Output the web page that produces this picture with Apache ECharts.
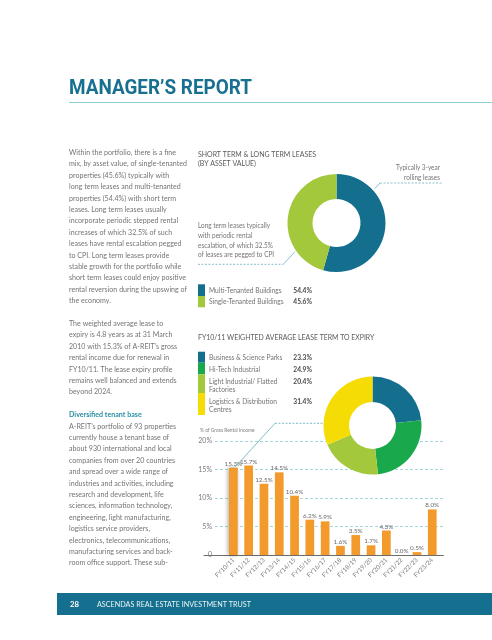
<!DOCTYPE html>
<html><head><meta charset="utf-8">
<script src="https://cdn.jsdelivr.net/npm/echarts@6/dist/echarts.min.js"></script>
<style>html,body{margin:0;padding:0;background:#fff}#c{width:492px;height:640px}</style>
</head><body><div id="c"></div>
<script>
// ---------- data ----------
const pageTitle = 'MANAGER’S REPORT';
const footerPage = '28';
const footerText = 'ASCENDAS REAL ESTATE INVESTMENT TRUST';

const leaseTitle = ['SHORT TERM & LONG TERM LEASES', '(BY ASSET VALUE)'];
const leaseTypes = ['Multi-Tenanted Buildings', 'Single-Tenanted Buildings'];
const leaseShares = [54.4, 45.6];
const leaseColors = ['#146f8e', '#a4c83c'];
const shortNote = ['Typically 3-year', 'rolling leases'];
const longNote = ['Long term leases typically', 'with periodic rental', 'escalation, of which 32.5%', 'of leases are pegged to CPI'];

const sectorTitle = 'FY10/11 WEIGHTED AVERAGE LEASE TERM TO EXPIRY';
const sectors = [['Business & Science Parks'], ['Hi-Tech Industrial'], ['Light Industrial/ Flatted', 'Factories'], ['Logistics & Distribution', 'Centres']];
const sectorShares = [23.3, 24.9, 20.4, 31.4];
const sectorColors = ['#146f8e', '#19a84c', '#a4c83c', '#f5dc05'];

const yAxisTitle = '% of Gross Rental Income';
const fiscalYears = ['FY10/11','FY11/12','FY12/13','FY13/14','FY14/15','FY15/16','FY16/17','FY17/18','FY18/19','FY19/20','FY20/21','FY21/22','FY22/23','FY23/24'];
const expiryShares = [15.3, 15.7, 12.5, 14.5, 10.4, 6.2, 5.9, 1.6, 3.5, 1.7, 4.3, 0.0, 0.5, 8.0];
const yTicks = [0, 5, 10, 15, 20];

const para1 = ['Within the portfolio, there is a fine','mix, by asset value, of single-tenanted','properties (45.6%) typically with','long term leases and multi-tenanted','properties (54.4%) with short term','leases. Long term leases usually','incorporate periodic stepped rental','increases of which 32.5% of such','leases have rental escalation pegged','to CPI. Long term leases provide','stable growth for the portfolio while','short term leases could enjoy positive','rental reversion during the upswing of','the economy.'];
const para2 = ['The weighted average lease to','expiry is 4.8 years as at 31 March','2010 with 15.3% of A-REIT’s gross','rental income due for renewal in','FY10/11. The lease expiry profile','remains well balanced and extends','beyond 2024.'];
const heading3 = 'Diversified tenant base';
const para3 = ['A-REIT’s portfolio of 93 properties','currently house a tenant base of','about 930 international and local','companies from over 20 countries','and spread over a wide range of','industries and activities, including','research and development, life','sciences, information technology,','engineering, light manufacturing,','logistics service providers,','electronics, telecommunications,','manufacturing services and back-','room office support. These sub-'];

// ---------- helpers ----------
const chart = echarts.init(document.getElementById('c'), null, {renderer: 'canvas'});
const mctx = document.createElement('canvas').getContext('2d');
function measure(str, size, fam, wt) { mctx.font = (wt || 'normal') + ' ' + size + 'px ' + fam; return mctx.measureText(str).width; }
const BODY = 'Lato';
const WT = 'normal';
function T(x, y, str, o) {
  o = o || {};
  const size = o.size || 8, fam = o.family || BODY, wt = o.weight || WT;
  const sx = o.scale || (o.width ? o.width / measure(str, size, fam, wt) : 1);
  const al = o.align || 'left';
  return {type: 'text', x: x, y: y, scaleX: sx, z: 10,
    style: {text: str, fontSize: size, fontFamily: fam, fontWeight: wt, fill: o.color || '#747474',
      align: al, textAlign: al, verticalAlign: 'middle', textVerticalAlign: 'middle'}};
}
function L(x1, y1, x2, y2, dash, color) {
  return {type: 'line', z: 10, shape: {x1: x1, y1: y1, x2: x2, y2: y2},
    style: {stroke: color || '#7db9c6', lineWidth: 0.9, lineDash: dash ? [2, 1.5] : null}};
}
function R(x, y, w, h, fill, z) { return {type: 'rect', z: z || 10, shape: {x, y, width: w, height: h}, style: {fill}}; }
const pct = v => v.toFixed(1) + '%';

// bar grid geometry (value axis 0..20)
const barGrid = {left: 225.7, right: 52.1, top: 441, bottom: 85};
const yMax = yTicks[yTicks.length - 1];
const bgW = 492 - barGrid.left - barGrid.right, bgH = 640 - barGrid.top - barGrid.bottom;
const firstBarTop = [barGrid.left + bgW / fiscalYears.length / 2, barGrid.top + bgH * (1 - expiryShares[0] / yMax)];

const G = [];
// title
G.push(T(69, 89, pageTitle, {size: 20, family: 'Roboto', weight: 'bold', color: '#17708f', width: 183}));
G.push(L(69, 102.5, 492, 102.5, false, '#7fcad3'));

// body text
const bodySize = 8.3;
const bodyScale = 117 / measure('short term leases could enjoy positive', bodySize, BODY, WT);
const lh = 11.4, y0 = 152.3;
para1.forEach((s, i) => G.push(T(69, y0 + lh * i, s, {size: bodySize, scale: bodyScale})));
para2.forEach((s, i) => G.push(T(69, y0 + lh * (15 + i), s, {size: bodySize, scale: bodyScale})));
G.push(T(69, y0 + lh * 23, heading3, {size: bodySize, scale: bodyScale, color: '#2a8ea5', weight: 'bold'}));
para3.forEach((s, i) => G.push(T(69, y0 + lh * (24 + i), s, {size: bodySize, scale: bodyScale})));

// chart 1 texts
G.push(T(198, 154, leaseTitle[0], {size: 8.3, width: 118, color: '#5a5a5a'}));
G.push(T(198, 163.7, leaseTitle[1], {size: 8.3, scale: 118 / measure(leaseTitle[0], 8.3, BODY, WT), color: '#5a5a5a'}));
const noteScale = 44 / measure(shortNote[0], 7.6, BODY, WT);
G.push(T(440, 168, shortNote[0], {size: 7.6, scale: noteScale, align: 'right'}));
G.push(T(440, 177.7, shortNote[1], {size: 7.6, scale: noteScale, align: 'right'}));
G.push(L(380, 183, 441.7, 183, true));
G.push(L(380, 183, 375, 188.5, false));
longNote.forEach((s, i) => G.push(T(198, 226 + 9.65 * i, s, {size: 7.6, scale: noteScale})));
G.push(L(198, 264.3, 283.3, 264.3, true));
G.push(L(283.3, 264.3, 295, 251.7, false));
// callout from donut 2 to the first bar
G.push(L(275, 423.3, 323.5, 423.3, true, '#73b3c3'));
G.push(L(275, 423.3, firstBarTop[0] + 2, firstBarTop[1] - 1, false, '#73b3c3'));
// legend 1
const legScale = 72.7 / measure('Multi-Tenanted Buildings', 7.8, BODY, WT);
const lg1 = [[284.3, 296], [296, 307.3]];
leaseTypes.forEach((s, i) => {
  G.push(R(198, lg1[i][0], 7, lg1[i][1] - lg1[i][0], leaseColors[i]));
  const cy = (lg1[i][0] + lg1[i][1]) / 2;
  G.push(T(209, cy, s, {size: 7.8, scale: legScale}));
  G.push(T(293.3, cy, pct(leaseShares[i]), {size: 7.8, scale: legScale, weight: 'bold', color: '#4a4a4a'}));
});

// chart 2 texts
G.push(T(198, 337, sectorTitle, {size: 8.3, width: 176.3, color: '#5a5a5a'}));
const lg2 = [[351.7, 362.7], [362.7, 374.3], [374.3, 393], [393, 415]];
const lg2Text = [[357.7], [369.3], [381.3, 389.3], [401, 409.3]];
sectors.forEach((lines, i) => {
  G.push(R(198, lg2[i][0], 7, lg2[i][1] - lg2[i][0], sectorColors[i]));
  lines.forEach((s, j) => G.push(T(209, lg2Text[i][j], s, {size: 7.8, scale: legScale})));
  G.push(T(293.3, lg2Text[i][0], pct(sectorShares[i]), {size: 7.8, scale: legScale, weight: 'bold', color: '#4a4a4a'}));
});
G.push(T(200, 430, yAxisTitle, {size: 6.2, width: 54.7, color: '#808080'}));
// white hole of donut 2 over gridlines
G.push({type: 'circle', z: 1, shape: {cx: 372.5, cy: 425.5, r: 23.5}, style: {fill: '#fff'}});

// footer
G.push(R(57, 593, 435, 22, '#14708e', 10));
G.push(T(70, 604, footerPage, {size: 7.8, weight: 'bold', color: '#fff'}));
G.push(T(97, 604, footerText, {size: 7.8, width: 154, color: '#eaf4f7'}));

const option = {
  backgroundColor: '#fff',
  animation: false,
  graphic: {elements: G},
  grid: [
    barGrid,
    {left: 215, right: 48.7, top: 441, bottom: 85},
    {left: 204, right: 48.7, top: 441, bottom: 85}
  ],
  xAxis: [
    {type: 'category', gridIndex: 0, data: fiscalYears, boundaryGap: true,
      axisLine: {show: false}, axisTick: {show: false},
      axisLabel: {rotate: 45, fontSize: 6.2, color: '#7a7a7a', margin: 4, fontFamily: BODY, interval: 0}},
    {type: 'value', gridIndex: 1, show: false},
    {type: 'value', gridIndex: 2, axisLine: {show: true, lineStyle: {color: '#6d6d6d', width: 1}},
      axisTick: {show: false}, axisLabel: {show: false}, splitLine: {show: false}}
  ],
  yAxis: [
    {type: 'value', gridIndex: 0, min: 0, max: yMax, interval: 5, show: false},
    {type: 'value', gridIndex: 1, min: 0, max: yMax, interval: 5,
      axisLine: {show: false}, axisTick: {show: false},
      axisLabel: {fontSize: 7, color: '#7a7a7a', margin: 3, fontFamily: BODY, formatter: v => yTicks.includes(v) ? (v === 0 ? '0' : v + '%') : ''},
      splitLine: {show: true, lineStyle: {color: '#8ccbd4', type: [3, 2], width: 0.8}}},
    {type: 'value', gridIndex: 2, show: false, min: 0, max: yMax}
  ],
  series: [
    {type: 'pie', name: 'leases', center: [336.5, 223], radius: [24, 49], startAngle: 90, clockwise: true,
      label: {show: false}, labelLine: {show: false}, silent: true, z: 5,
      data: leaseTypes.map((n, i) => ({name: n, value: leaseShares[i], itemStyle: {color: leaseColors[i]}}))},
    {type: 'pie', name: 'sectors', center: [372.5, 425.5], radius: [23.5, 49], startAngle: 90, clockwise: true,
      label: {show: false}, labelLine: {show: false}, silent: true, z: 5,
      data: sectors.map((n, i) => ({name: n.join(' '), value: sectorShares[i], itemStyle: {color: sectorColors[i]}}))},
    {type: 'bar', xAxisIndex: 0, yAxisIndex: 0, barWidth: '57%', z: 3,
      itemStyle: {color: '#f39a2c'},
      label: {show: true, position: 'top', distance: 1, fontSize: 6.3, color: '#6b6b6b', fontFamily: BODY, formatter: p => pct(p.value)},
      data: expiryShares.map((v, i) => i === 0 ? {value: v, itemStyle: {shadowColor: 'rgba(0,0,0,0.35)', shadowBlur: 4, shadowOffsetX: -1}} : v)}
  ]
};
chart.setOption(option);
</script></body></html>
